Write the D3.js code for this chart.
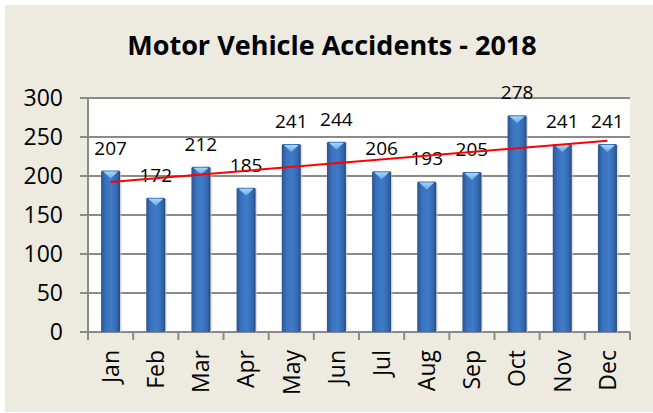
<!DOCTYPE html>
<html>
<head>
<meta charset="utf-8">
<script src="https://cdn.jsdelivr.net/npm/d3@7"></script>
<style>
  html, body { margin: 0; padding: 0; background: #fff; }
  text { font-family: "Open Sans", "DejaVu Sans", sans-serif; fill: #000; }
</style>
</head>
<body>
<svg id="chart"></svg>
<script>
var months = ['Jan', 'Feb', 'Mar', 'Apr', 'May', 'Jun', 'Jul', 'Aug', 'Sep', 'Oct', 'Nov', 'Dec'];
var accidents = [207, 172, 212, 185, 241, 244, 206, 193, 205, 278, 241, 241];
var yTicks = [0, 50, 100, 150, 200, 250, 300];
var title = 'Motor Vehicle Accidents - 2018';

var width = 653,
    height = 413,
    margin = { top: 98, right: 23, bottom: 81, left: 88 };

var svg = d3.select('#chart')
    .attr('width', width)
    .attr('height', height);

var defs = svg.append('defs');

var barGrad = defs.append('linearGradient')
    .attr('id', 'barGrad')
    .attr('x1', '0%').attr('x2', '100%')
    .attr('y1', '0%').attr('y2', '0%');
barGrad.append('stop').attr('offset', '0%').attr('stop-color', '#2a5590');
barGrad.append('stop').attr('offset', '25%').attr('stop-color', '#3a72bd');
barGrad.append('stop').attr('offset', '55%').attr('stop-color', '#3f7bc8');
barGrad.append('stop').attr('offset', '85%').attr('stop-color', '#3367ad');
barGrad.append('stop').attr('offset', '100%').attr('stop-color', '#23497f');

var capGrad = defs.append('linearGradient')
    .attr('id', 'capGrad')
    .attr('x1', '0%').attr('x2', '0%')
    .attr('y1', '0%').attr('y2', '100%');
capGrad.append('stop').attr('offset', '0%').attr('stop-color', '#a6d6f7');
capGrad.append('stop').attr('offset', '100%').attr('stop-color', '#6aa9e4');

// background panel
svg.append('rect')
    .attr('x', 5).attr('y', 5)
    .attr('width', width - 5).attr('height', height - 6)
    .attr('fill', '#edeae0');

var x = d3.scaleBand()
    .domain(months)
    .range([margin.left, width - margin.right])
    .paddingInner(0)
    .paddingOuter(0);

var y = d3.scaleLinear()
    .domain([0, 300])
    .range([height - margin.bottom, margin.top]);

// plot area
svg.append('rect')
    .attr('x', margin.left)
    .attr('y', margin.top)
    .attr('width', width - margin.right - margin.left)
    .attr('height', height - margin.bottom - margin.top)
    .attr('fill', '#fff');

// gridlines
svg.append('g')
    .selectAll('line')
    .data(yTicks)
    .enter().append('line')
    .attr('x1', margin.left - 8)
    .attr('x2', width - margin.right)
    .attr('y1', function (d) { return y(d); })
    .attr('y2', function (d) { return y(d); })
    .attr('stroke', '#8a8a8a')
    .attr('stroke-width', 2);

// y axis line
svg.append('line')
    .attr('x1', margin.left).attr('x2', margin.left)
    .attr('y1', margin.top).attr('y2', height - margin.bottom + 8)
    .attr('stroke', '#8a8a8a')
    .attr('stroke-width', 2);

// x axis ticks between categories
var xTickPos = months.map(function (m) { return x(m); }).concat([x(months[11]) + x.bandwidth()]);
svg.append('g')
    .selectAll('line')
    .data(xTickPos)
    .enter().append('line')
    .attr('x1', function (d) { return d; })
    .attr('x2', function (d) { return d; })
    .attr('y1', y(0))
    .attr('y2', y(0) + 8)
    .attr('stroke', '#8a8a8a')
    .attr('stroke-width', 2);

// y labels
svg.append('g')
    .selectAll('text')
    .data(yTicks)
    .enter().append('text')
    .attr('x', margin.left - 25)
    .attr('y', function (d) { return y(d); })
    .attr('dy', '0.36em')
    .attr('text-anchor', 'end')
    .style('font-size', '23px')
    .text(function (d) { return d; });

// x labels
svg.append('g')
    .selectAll('text')
    .data(months)
    .enter().append('text')
    .attr('transform', function (d) {
        return 'translate(' + (x(d) + x.bandwidth() / 2) + ',' + (y(0) + 18) + ') rotate(-90)';
    })
    .attr('dy', '0.36em')
    .attr('text-anchor', 'end')
    .style('font-size', '23px')
    .text(function (d) { return d; });

// bars
var barW = 19;
var bars = svg.append('g')
    .selectAll('g')
    .data(accidents)
    .enter().append('g')
    .attr('transform', function (d, i) {
        return 'translate(' + (x(months[i]) + x.bandwidth() / 2 - barW / 2) + ',0)';
    });

bars.append('rect')
    .attr('x', 1.5)
    .attr('y', function (d) { return y(d) + 1; })
    .attr('width', barW)
    .attr('height', function (d) { return y(0) - y(d) - 1; })
    .attr('fill', '#c8c8c8')
    .attr('opacity', 0.6);

bars.append('rect')
    .attr('x', 0)
    .attr('y', function (d) { return y(d); })
    .attr('width', barW)
    .attr('height', function (d) { return y(0) - y(d); })
    .attr('rx', 1.5)
    .attr('fill', 'url(#barGrad)');

bars.append('path')
    .attr('d', function (d) {
        var t = y(d) + 1;
        return 'M2,' + t + 'L' + (barW - 2) + ',' + t + 'L' + (barW / 2) + ',' + (t + 7) + 'Z';
    })
    .attr('fill', 'url(#capGrad)');

// value labels
svg.append('g')
    .selectAll('text')
    .data(accidents)
    .enter().append('text')
    .attr('x', function (d, i) { return x(months[i]) + x.bandwidth() / 2; })
    .attr('y', function (d) { return y(d) - 16; })
    .attr('text-anchor', 'middle')
    .style('font-size', '19px')
    .text(function (d) { return d; });

// linear trend line
var n = accidents.length;
var xm = d3.mean(accidents, function (d, i) { return i + 1; });
var ym = d3.mean(accidents);
var sxy = d3.sum(accidents, function (d, i) { return (i + 1 - xm) * (d - ym); });
var sxx = d3.sum(accidents, function (d, i) { return (i + 1 - xm) * (i + 1 - xm); });
var slope = sxy / sxx;
var icpt = ym - slope * xm;

svg.append('line')
    .attr('x1', x(months[0]) + x.bandwidth() / 2)
    .attr('x2', x(months[n - 1]) + x.bandwidth() / 2)
    .attr('y1', y(icpt + slope))
    .attr('y2', y(icpt + slope * n))
    .attr('stroke', '#f00')
    .attr('stroke-width', 2);

// title
svg.append('text')
    .attr('x', 332)
    .attr('y', 55)
    .attr('text-anchor', 'middle')
    .style('font-size', '27px')
    .style('font-weight', 'bold')
    .text(title);
</script>
</body>
</html>
